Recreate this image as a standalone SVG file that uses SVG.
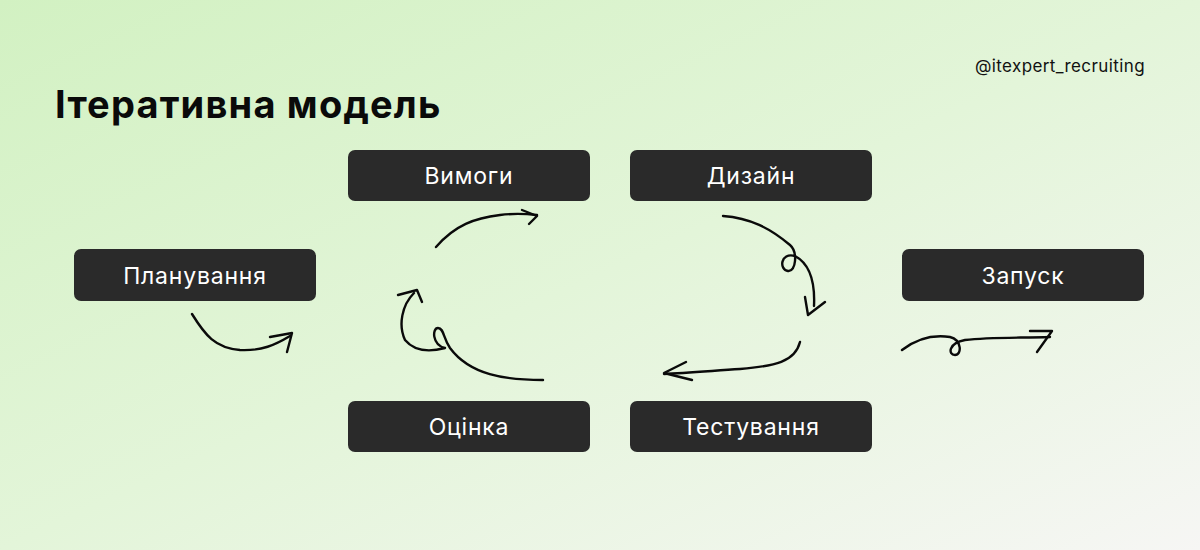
<svg xmlns="http://www.w3.org/2000/svg" width="1200" height="550" viewBox="0 0 1200 550">
<defs>
<linearGradient id="bg" x1="0" y1="0" x2="1" y2="1">
<stop offset="0" stop-color="#d2f1c2"/>
<stop offset="0.5" stop-color="#e3f5d9"/>
<stop offset="1" stop-color="#f6f6f4"/>
</linearGradient>
<style>
.box{fill:#2a2a2a}
.lbl{fill:#ffffff;font-family:Inter,"Noto Sans",sans-serif;font-size:23px;letter-spacing:0.8px;text-anchor:middle}
.ln{fill:none;stroke:#0a0a0a;stroke-width:2.4;stroke-linecap:round;stroke-linejoin:round}
</style>
</defs>
<rect width="1200" height="550" fill="url(#bg)"/>
<text x="55" y="118" font-family="Inter,'Noto Sans',sans-serif" font-weight="700" font-size="38" letter-spacing="1.2" fill="#0a0a0a">Ітеративна модель</text>
<text x="1145" y="72" font-family="Inter,'Noto Sans',sans-serif" font-size="17" letter-spacing="0.4" fill="#111" text-anchor="end">@itexpert_recruiting</text>
<g id="planuvannya"><rect class="box" x="74" y="249" width="242" height="52" rx="7"/><text class="lbl" x="195" y="284">Планування</text></g>
<g id="vymohy"><rect class="box" x="348" y="150" width="242" height="51" rx="7"/><text class="lbl" x="469" y="184">Вимоги</text></g>
<g id="dyzain"><rect class="box" x="630" y="150" width="242" height="51" rx="7"/><text class="lbl" x="751" y="184">Дизайн</text></g>
<g id="zapusk"><rect class="box" x="902" y="249" width="242" height="52" rx="7"/><text class="lbl" x="1023" y="284">Запуск</text></g>
<g id="otsinka"><rect class="box" x="348" y="401" width="242" height="51" rx="7"/><text class="lbl" x="469" y="435">Оцінка</text></g>
<g id="testuvannya"><rect class="box" x="630" y="401" width="242" height="51" rx="7"/><text class="lbl" x="751" y="435">Тестування</text></g>
<g id="connectors">
<path class="ln" d="M192 314 C205 335 215 348 240 350 C262 351 275 345 290 336"/>
<path class="ln" d="M270 337 L292 333 L287 352"/>
<path class="ln" d="M436 247 C455 225 475 218 500 215 C515 213 528 214 537 215"/>
<path class="ln" d="M522 210 L537 216 L529 224"/>
<path class="ln" d="M543 380 C505 380 470 375 450 348 C443 338 444 328 438 328 C432 328 432 345 445 348 C430 352 415 352 405 340 C398 325 402 305 414 293"/>
<path class="ln" d="M398 295 L417 290 L422 302"/>
<path class="ln" d="M723 216 C750 218 770 228 790 245 C798 252 796 272 788 271 C779 270 780 252 795 256 C812 265 815 285 814 306"/>
<path class="ln" d="M805 297 L808 315 L825 302"/>
<path class="ln" d="M800 342 C795 362 775 366 740 369 C710 371 685 373 664 374"/>
<path class="ln" d="M686 362 L664 373 L692 380"/>
<path class="ln" d="M902 350 C915 340 930 334 950 337 C962 340 962 355 955 355 C948 355 948 343 965 340 C990 337 1020 338 1050 337"/>
<path class="ln" d="M1030 331 L1052 331 L1037 352"/>
</g>
</svg>
